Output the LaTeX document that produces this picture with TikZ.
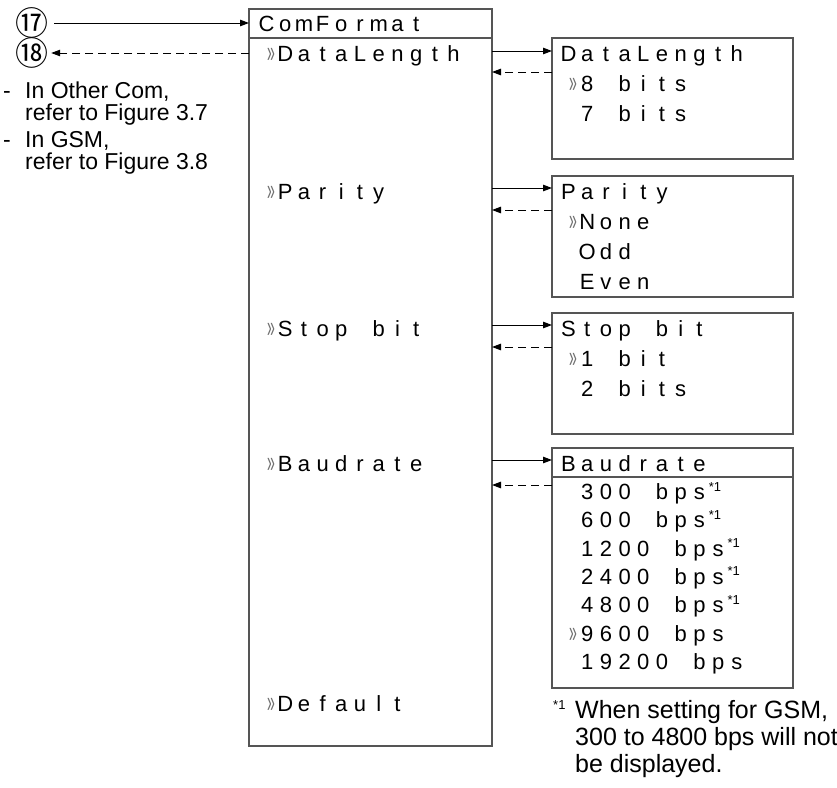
\documentclass[tikz,border=0pt]{standalone}
\usepackage{fontspec}
\setmainfont{Liberation Sans}
\newfontfamily\circfont{Noto Sans CJK JP}
\usepackage{graphicx}
\usetikzlibrary{arrows.meta}
\definecolor{boxgray}{HTML}{555555}
\definecolor{markgray}{HTML}{707070}
\newdimen\lcdcell \lcdcell=18.7pt
\ExplSyntaxOn
\NewDocumentCommand\lcd{m}{\str_map_inline:nn{#1}{\makebox[\lcdcell][c]{##1}}}
\ExplSyntaxOff
\newcommand\mk{\makebox[\lcdcell][r]{\color{markgray}\raisebox{-1.8pt}{\scalebox{1.0}[2.2]{\fontsize{14}{14}\selectfont »}}\hspace{1pt}}}
\newcommand\sone{\raisebox{8.5pt}{\fontsize{13}{13}\selectfont *1}}
\tikzset{
  box/.style={draw=boxgray, line width=1.2pt, inner sep=0pt, outer sep=0pt, anchor=north west},
  sepline/.style={draw=boxgray, line width=1.2pt},
  lcdtext/.style={inner sep=0pt, anchor=base west, font=\fontsize{22}{26}\selectfont},
  notetext/.style={inner sep=0pt, anchor=base west, align=left, font=\fontsize{23}{22}\selectfont},
  foottext/.style={inner sep=0pt, anchor=base west, align=left, font=\fontsize{25}{27}\selectfont},
  circnum/.style={inner sep=0pt, font=\circfont\fontsize{33}{33}\selectfont},
  solidarrow/.style={draw=black, line width=1pt, -{Triangle[length=9pt,width=6.5pt]}},
  dasharrow/.style={solidarrow, dash pattern=on 8pt off 5pt},
}
\begin{document}
\begin{tikzpicture}[x=1pt,y=-1pt]
\useasboundingbox (0,0) rectangle (837,787);
% main box
\node[box, minimum width=243pt, minimum height=737pt] (main) at (249,9) {};
\coordinate (msep) at (249,38);
\draw[sepline] (main.west |- msep) -- (main.east |- msep);
\node[lcdtext] (tcom) at (257,31.5) {\lcd{ComFormat}};
\node[lcdtext] (tdl) at (257,61) {\mk\lcd{DataLength}};
\node[lcdtext] (tpar) at (257,199) {\mk\lcd{Parity}};
\node[lcdtext] (tstop) at (257,336) {\mk\lcd{Stop bit}};
\node[lcdtext] (tbaud) at (257,471) {\mk\lcd{Baudrate}};
\node[lcdtext] (tdef) at (257,711) {\mk\lcd{Default}};
% circled numbers and notes
\node[circnum] (c17) at (31.5,22.5) {⑰};
\node[circnum] (c18) at (31.5,52.5) {⑱};
\coordinate (a17) at (54,23); \coordinate (a18) at (0,53);
\draw[solidarrow] (a17) -- (main.west |- a17);
\draw[dasharrow, shorten >=3pt] (main.west |- a18) -- (c18.east |- a18);
\node[notetext] (d1) at (3,98) {-};
\node[notetext] (n1) at (25,120) {In Other Com,\\refer to Figure 3.7};
\node[notetext] (d2) at (3,147) {-};
\node[notetext] (n2) at (25,169) {In GSM,\\refer to Figure 3.8};
% DataLength box
\node[box, minimum width=241pt, minimum height=121pt] (dl) at (552,38) {};
\node[lcdtext] (dl0) at (559,61) {\lcd{DataLength}};
\node[lcdtext] (dl1) at (559,91) {\mk\lcd{8 bits}};
\node[lcdtext] (dl2) at (559,121) {\lcd{ 7 bits}};
\coordinate (dla) at (0,51); \coordinate (dlb) at (0,72);
\draw[solidarrow] (main.east |- dla) -- (dl.west |- dla);
\draw[dasharrow] (dl.west |- dlb) -- (main.east |- dlb);
% Parity box
\node[box, minimum width=241pt, minimum height=121pt] (par) at (552,176) {};
\node[lcdtext] (par0) at (559,199) {\lcd{Parity}};
\node[lcdtext] (par1) at (559,229) {\mk\lcd{None}};
\node[lcdtext] (par2) at (559,259) {\lcd{ Odd}};
\node[lcdtext] (par3) at (559,289) {\lcd{ Even}};
\coordinate (para) at (0,188); \coordinate (parb) at (0,210);
\draw[solidarrow] (main.east |- para) -- (par.west |- para);
\draw[dasharrow] (par.west |- parb) -- (main.east |- parb);
% Stop bit box
\node[box, minimum width=241pt, minimum height=121pt] (stop) at (552,313) {};
\node[lcdtext] (st0) at (559,336) {\lcd{Stop bit}};
\node[lcdtext] (st1) at (559,366) {\mk\lcd{1 bit}};
\node[lcdtext] (st2) at (559,396) {\lcd{ 2 bits}};
\coordinate (sta) at (0,325); \coordinate (stb) at (0,347);
\draw[solidarrow] (main.east |- sta) -- (stop.west |- sta);
\draw[dasharrow] (stop.west |- stb) -- (main.east |- stb);
% Baudrate box
\node[box, minimum width=241pt, minimum height=240pt] (baud) at (552,448) {};
\coordinate (bsep) at (0,477);
\draw[sepline] (baud.west |- bsep) -- (baud.east |- bsep);
\node[lcdtext] (b0) at (559,471) {\lcd{Baudrate}};
\node[lcdtext] (b1) at (559,499.5) {\lcd{ 300 bps}\sone};
\node[lcdtext] (b2) at (559,527.8) {\lcd{ 600 bps}\sone};
\node[lcdtext] (b3) at (559,556.1) {\lcd{ 1200 bps}\sone};
\node[lcdtext] (b4) at (559,584.4) {\lcd{ 2400 bps}\sone};
\node[lcdtext] (b5) at (559,612.7) {\lcd{ 4800 bps}\sone};
\node[lcdtext] (b6) at (559,641) {\mk\lcd{9600 bps}};
\node[lcdtext] (b7) at (559,669.3) {\lcd{ 19200 bps}};
\coordinate (ba) at (0,460); \coordinate (bb) at (0,485);
\draw[solidarrow] (main.east |- ba) -- (baud.west |- ba);
\draw[dasharrow] (baud.west |- bb) -- (main.east |- bb);
% footnote
\node[inner sep=0pt, anchor=base west, font=\fontsize{13}{13}\selectfont] (fnm) at (553,709) {*1};
\node[foottext] (fn) at (575,772) {When setting for GSM,\\300 to 4800 bps will not\\be displayed.};
\end{tikzpicture}
\end{document}
